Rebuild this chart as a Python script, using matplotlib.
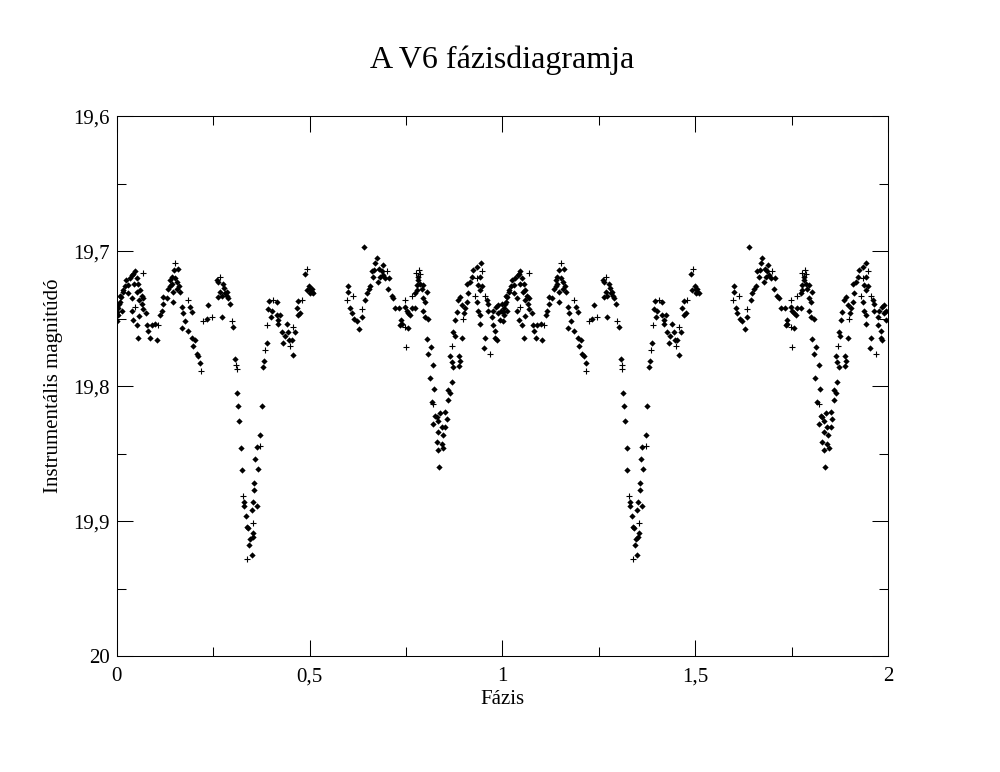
### Phase diagram of the V6 variable star
# two cycles are shown: the same phase data is plotted at phase and phase + 1

import numpy as np
import matplotlib
matplotlib.use('Agg')
import matplotlib.pyplot as plt
from matplotlib.ticker import MultipleLocator, FuncFormatter

plt.rcParams['font.family'] = ['Liberation Serif', 'DejaVu Serif']

### Data - one cycle
# measurements drawn as filled diamonds
ph_d = [0.000, 0.002, 0.001, 0.009, 0.013, 0.017, 0.022, 0.030, 0.030, 0.034,
        0.039, 0.043, 0.047, 0.052, 0.056, 0.060, 0.065, 0.069, 0.039, 0.043,
        0.052, 0.056, 0.059, 0.069, 0.076, 0.079, 0.082, 0.086, 0.091, 0.099,
        0.104, 0.112, 0.117, 0.121, 0.121, 0.130, 0.134, 0.138, 0.143, 0.151,
        0.160, 0.156, 0.164, 0.147, 0.147, 0.169, 0.173, 0.169, 0.177, 0.190,
        0.195, 0.186, 0.195, 0.203, 0.199, 0.207, 0.212, 0.216, 0.233, 0.238,
        0.261, 0.263,
        0.025, 0.040, 0.045, 0.053, 0.058, 0.066, 0.138, 0.143, 0.156, 0.162,
        0.148, 0.009, 0.003, 0.003, 0.007, 0.011, 0.016,
        0.263, 0.276, 0.268, 0.272, 0.281, 0.285, 0.289, 0.294, 0.272, 0.302,
        0.307, 0.313, 0.315, 0.318, 0.322, 0.324, 0.331, 0.331, 0.335, 0.339,
        0.341, 0.346, 0.344, 0.350, 0.350, 0.353, 0.357, 0.357, 0.363, 0.354,
        0.353, 0.366, 0.359, 0.363, 0.372, 0.376, 0.380, 0.383, 0.389, 0.393,
        0.396, 0.399, 0.402, 0.415, 0.415, 0.419, 0.419, 0.424, 0.428, 0.431,
        0.436, 0.441, 0.445, 0.448, 0.454, 0.462, 0.458, 0.467, 0.471, 0.471,
        0.475, 0.488, 0.493, 0.501, 0.506, 0.510, 0.499, 0.506, 0.501, 0.278,
        0.286,
        0.640, 0.601, 0.601, 0.605, 0.609, 0.616, 0.622, 0.629, 0.635, 0.644,
        0.648, 0.653, 0.657, 0.661, 0.665, 0.670, 0.674, 0.678, 0.683, 0.687,
        0.690, 0.696, 0.707, 0.704, 0.713, 0.717, 0.722, 0.733, 0.737, 0.739,
        0.735, 0.748, 0.752, 0.756, 0.765, 0.761, 0.774, 0.756, 0.774, 0.778,
        0.782, 0.667, 0.680, 0.691,
        0.782, 0.787, 0.778, 0.791, 0.795, 0.804, 0.795, 0.800, 0.795, 0.800,
        0.808, 0.804, 0.814, 0.808, 0.820, 0.812, 0.823, 0.817, 0.825, 0.821,
        0.830, 0.838, 0.834, 0.843, 0.834, 0.845, 0.830, 0.843, 0.834, 0.847,
        0.837, 0.851, 0.856, 0.851, 0.860, 0.864, 0.860, 0.869, 0.864, 0.869,
        0.873, 0.888, 0.888, 0.890, 0.873, 0.876, 0.895, 0.877, 0.882, 0.886,
        0.890, 0.895, 0.901, 0.903, 0.908, 0.912, 0.908, 0.916, 0.925, 0.934,
        0.944, 0.942, 0.934, 0.938, 0.942, 0.942, 0.947, 0.942, 0.960, 0.964,
        0.955, 0.953, 0.973, 0.977, 0.984, 0.990, 0.994, 0.981, 0.981, 0.985,
        0.996, 0.975, 0.921, 0.937, 0.963, 0.989]
mag_d = [19.739, 19.745, 19.752, 19.738, 19.744, 19.730, 19.726, 19.725, 19.731, 19.720,
         19.735, 19.717, 19.715, 19.720, 19.724, 19.729, 19.733, 19.735, 19.744, 19.751,
         19.755, 19.764, 19.748, 19.743, 19.746, 19.755, 19.759, 19.764, 19.755, 19.754,
         19.766, 19.747, 19.744, 19.739, 19.734, 19.735, 19.728, 19.721, 19.724, 19.720,
         19.713, 19.728, 19.730, 19.730, 19.738, 19.741, 19.746, 19.757, 19.752, 19.741,
         19.745, 19.759, 19.764, 19.766, 19.770, 19.776, 19.778, 19.783, 19.750, 19.740,
         19.721, 19.734,
         19.721, 19.718, 19.724, 19.730, 19.736, 19.739, 19.726, 19.719, 19.723, 19.726,
         19.714, 19.733, 19.747, 19.742, 19.739, 19.734, 19.729,
         19.723, 19.724, 19.730, 19.733, 19.731, 19.730, 19.735, 19.739, 19.749, 19.756,
         19.780, 19.805, 19.815, 19.826, 19.846, 19.862, 19.886, 19.889, 19.896, 19.904,
         19.905, 19.913, 19.918, 19.925, 19.892, 19.886, 19.872, 19.877, 19.889, 19.909,
         19.912, 19.861, 19.854, 19.845, 19.836, 19.815, 19.786, 19.781, 19.768, 19.743,
         19.737, 19.749, 19.744, 19.738, 19.747, 19.751, 19.754, 19.747, 19.760, 19.768,
         19.763, 19.754, 19.760, 19.766, 19.766, 19.760, 19.777, 19.742, 19.737, 19.747,
         19.746, 19.717, 19.729, 19.728, 19.730, 19.731, 19.726, 19.728, 19.731, 19.727,
         19.733,
         19.697, 19.726, 19.730, 19.742, 19.746, 19.750, 19.752, 19.758, 19.749, 19.736,
         19.731, 19.728, 19.726, 19.715, 19.719, 19.709, 19.705, 19.723, 19.719, 19.715,
         19.710, 19.720, 19.720, 19.728, 19.733, 19.735, 19.742, 19.742, 19.751, 19.754,
         19.755, 19.741, 19.744, 19.746, 19.742, 19.747, 19.742, 19.757, 19.731, 19.725,
         19.719, 19.714, 19.713, 19.718,
         19.721, 19.724, 19.729, 19.728, 19.725, 19.730, 19.735, 19.738, 19.744, 19.749,
         19.750, 19.765, 19.771, 19.776, 19.784, 19.794, 19.802, 19.812, 19.822, 19.828,
         19.823, 19.820, 19.826, 19.830, 19.834, 19.836, 19.841, 19.843, 19.847, 19.846,
         19.860, 19.819, 19.824, 19.830, 19.803, 19.805, 19.810, 19.797, 19.778, 19.782,
         19.786, 19.778, 19.785, 19.781, 19.760, 19.763, 19.764, 19.751, 19.745, 19.736,
         19.734, 19.740, 19.746, 19.742, 19.738, 19.731, 19.724, 19.723, 19.714, 19.712,
         19.709, 19.719, 19.738, 19.744, 19.747, 19.754, 19.726, 19.729, 19.736, 19.739,
         19.764, 19.772, 19.749, 19.744, 19.741, 19.740, 19.751, 19.759, 19.764, 19.766,
         19.744, 19.755, 19.719, 19.725, 19.744, 19.746]

# measurements drawn as plus signs
ph_p = [0.069, 0.047, 0.108, 0.151, 0.186, 0.218, 0.225, 0.246, 0.268, 0.298,
        0.309, 0.311, 0.328, 0.339, 0.354, 0.372, 0.385, 0.391, 0.406, 0.449,
        0.458, 0.480, 0.494, 0.598, 0.614, 0.635, 0.700, 0.748, 0.748, 0.750,
        0.765, 0.776, 0.785, 0.787, 0.821, 0.870, 0.899, 0.934, 0.947, 0.929,
        0.955, 0.968]
mag_p = [19.716, 19.741, 19.755, 19.709, 19.736, 19.789, 19.752, 19.749, 19.719, 19.752,
         19.784, 19.787, 19.881, 19.928, 19.901, 19.844, 19.773, 19.755, 19.736, 19.770,
         19.756, 19.736, 19.713, 19.736, 19.733, 19.743, 19.715, 19.736, 19.756, 19.771,
         19.733, 19.716, 19.714, 19.717, 19.813, 19.770, 19.750, 19.720, 19.715, 19.733,
         19.733, 19.776]

ph_d, mag_d = np.array(ph_d), np.array(mag_d)
ph_p, mag_p = np.array(ph_p), np.array(mag_p)

### Figure
fig = plt.figure(figsize=(10, 7.72), dpi=100)
ax = fig.add_axes([0.1167, 0.150, 0.7713, 0.6995])

for shift in (0, 1):
    ax.plot(ph_d + shift, mag_d, 'D', color='black', ms=3.2, mew=0)
    ax.plot(ph_p + shift, mag_p, '+', color='black', ms=4, mew=0.8)

ax.set_xlim(0, 2)
ax.set_ylim(20, 19.6)   # magnitudes: brighter on top

ax.xaxis.set_major_locator(MultipleLocator(0.5))
ax.xaxis.set_minor_locator(MultipleLocator(0.25))
ax.yaxis.set_major_locator(MultipleLocator(0.1))
ax.yaxis.set_minor_locator(MultipleLocator(0.05))

# decimal comma on the tick labels
comma = FuncFormatter(lambda v, p: ('%g' % round(v, 3)).replace('.', ','))
ax.xaxis.set_major_formatter(comma)
ax.yaxis.set_major_formatter(comma)

ax.tick_params(which='both', direction='in', top=True, right=True,
               width=0.75, labelsize=15)
ax.tick_params(axis='x', pad=8)
ax.tick_params(axis='y', pad=5)
ax.tick_params(which='major', length=11.5)
ax.tick_params(which='minor', length=6.5)
for s in ax.spines.values():
    s.set_linewidth(0.75)

ax.set_xlabel('Fázis', fontsize=15, labelpad=3)
ax.set_ylabel('Instrumentális magnitúdó', fontsize=15, labelpad=7)
ax.set_title('A V6 fázisdiagramja', fontsize=23, pad=35)

fig.savefig('out.png', dpi=100)
